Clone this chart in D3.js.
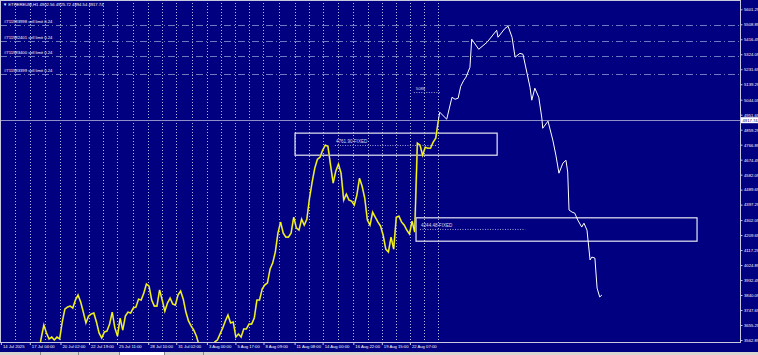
<!DOCTYPE html>
<html>
<head>
<meta charset="utf-8">
<script src="https://cdnjs.cloudflare.com/ajax/libs/d3/7.8.5/d3.min.js"></script>
<style>
  html, body { margin: 0; padding: 0; background: #000080; overflow: hidden; }
  svg { display: block; font-family: "Liberation Sans", Arial, sans-serif; }
</style>
</head>
<body>
<svg id="chart" width="758" height="355"></svg>
<script>
const firstBar = "2025-07-18 00:00";
const barStepHours = 6;
const closes = [
  3489, 3575, 3655, 3606, 3569, 3581, 3563, 3581, 3569, 3674,
  3754, 3766, 3772, 3760, 3809, 3840, 3797, 3735, 3668, 3711,
  3723, 3729, 3674, 3606, 3575, 3612, 3618, 3661, 3735, 3637,
  3587, 3698, 3624, 3711, 3735, 3729, 3760, 3766, 3815, 3809,
  3852, 3908, 3895, 3809, 3772, 3772, 3871, 3809, 3741, 3791,
  3821, 3785, 3778, 3840, 3865, 3815, 3735, 3680, 3649, 3624,
  3587, 3532, 3489, 3464, 3477, 3464, 3501, 3551, 3563, 3600,
  3637, 3680, 3717, 3668, 3674, 3581, 3600, 3581, 3631, 3631,
  3661, 3661, 3698, 3809, 3809, 3877, 3902, 3914, 4000, 4037,
  4105, 4222, 4290, 4222, 4197, 4197, 4222, 4320, 4253, 4240,
  4308, 4271, 4308, 4437, 4536, 4622, 4677, 4690, 4733, 4764,
  4758, 4641, 4530, 4604, 4647, 4591, 4425, 4462, 4425, 4419,
  4394, 4456, 4560, 4511, 4437, 4302, 4271, 4351, 4320, 4290,
  4265, 4209, 4123, 4105, 4197, 4123, 4320, 4326, 4290, 4271,
  4240, 4216, 4296, 4228, 4776, 4764, 4702, 4751, 4745, 4745,
  4782, 4807, 4917.74
];

// hand-drawn projection (white polyline)
const projDates = [
  "2025-08-25 00:00", "2025-08-25 03:00", "2025-08-25 19:00", "2025-08-26 07:00",
  "2025-08-26 14:00", "2025-08-26 21:00", "2025-08-27 03:00", "2025-08-27 10:00",
  "2025-08-27 15:00", "2025-08-28 00:00", "2025-08-28 04:00", "2025-08-28 20:00",
  "2025-08-29 15:00", "2025-08-30 13:00", "2025-08-30 16:00", "2025-08-31 08:00",
  "2025-08-31 15:00", "2025-09-01 00:00", "2025-09-01 07:00", "2025-09-01 18:00",
  "2025-09-02 01:00", "2025-09-02 17:00", "2025-09-02 21:00", "2025-09-03 04:00",
  "2025-09-03 13:00", "2025-09-03 20:00", "2025-09-03 22:00", "2025-09-04 10:00",
  "2025-09-04 21:00", "2025-09-05 04:00", "2025-09-05 11:00", "2025-09-05 20:00",
  "2025-09-06 03:00", "2025-09-06 07:00", "2025-09-06 10:00", "2025-09-06 17:00",
  "2025-09-06 23:00", "2025-09-07 06:00", "2025-09-07 15:00", "2025-09-07 20:00",
  "2025-09-08 03:00", "2025-09-08 10:00", "2025-09-08 14:00", "2025-09-08 21:00",
  "2025-09-09 02:00", "2025-09-09 08:00", "2025-09-09 13:00"
];
const projPrices = [
  4917.74, 4967, 4924, 5059, 5047, 5053, 5127, 5164,
  5183, 5244, 5417, 5355, 5398, 5472, 5429, 5484,
  5497, 5429, 5306, 5330, 5324, 5121, 5041, 5115,
  5059, 4930, 4868, 4912, 4795, 4702, 4591, 4653,
  4671, 4598, 4364, 4351, 4345, 4302, 4259, 4283,
  4240, 4056, 4074, 4068, 3883, 3828, 3840
];

const priceTicks = [
  5601.29, 5508.89, 5416.49, 5324.09, 5231.69, 5139.29, 5044.09, 4951.69,
  4859.29, 4766.89, 4674.49, 4582.09, 4489.69, 4397.29, 4302.09, 4209.69,
  4117.29, 4024.89, 3932.49, 3840.09, 3747.69, 3655.29, 3562.89
];

const timeTickDates = [
  "2025-07-14 10:00", "2025-07-17 04:00", "2025-07-20 02:00", "2025-07-22 19:00",
  "2025-07-25 11:00", "2025-07-28 10:00", "2025-07-31 02:00", "2025-08-03 00:00",
  "2025-08-05 17:00", "2025-08-08 09:00", "2025-08-11 08:00", "2025-08-14 00:00",
  "2025-08-16 22:00", "2025-08-19 15:00", "2025-08-22 07:00"
];
const timeTickLabels = [
  "14 Jul 2025", "17 Jul 04:00", "20 Jul 02:00", "22 Jul 19:00",
  "25 Jul 11:00", "28 Jul 10:00", "31 Jul 02:00", "3 Aug 00:00",
  "5 Aug 17:00", "8 Aug 09:00", "11 Aug 08:00", "14 Aug 00:00",
  "16 Aug 22:00", "19 Aug 15:00", "22 Aug 07:00"
];

const sellLimitNames = [
  "#711983998 sell limit 0.24", "#711982401 sell limit 0.24",
  "#711983400 sell limit 0.24", "#711983399 sell limit 0.24"
];
const sellLimitPrices = [5507, 5406, 5316, 5205];

const zoneNames = ["4761.90  FIXED", "4244.48 FIXED"];
const zoneLevels = [4761.90, 4244.48];
const zoneTops = [4838, 4316];
const zoneBottoms = [4702, 4172];
const zoneStarts = ["2025-08-11 09:00", "2025-08-22 21:00"];
const zoneEnds = ["2025-08-30 14:00", "2025-09-18 14:00"];
const zoneLineStarts = ["2025-08-15 04:00", "2025-08-23 06:00"];
const zoneLineEnds = ["2025-08-24 21:00", "2025-09-02 06:00"];

const targetLevel = 5088;
const targetFrom = "2025-08-22 16:00";
const targetTo = "2025-08-25 04:00";

const header = "\u25BC ETHEREUM,H1  4902.56 4925.72 4894.54 4917.74";

const WIDTH = 758;
const PLOT_RIGHT = 740;
const PLOT_BOTTOM = 342;
const FONT = 4.2;
const NAVY = "#000080";

const parse = d3.timeParse("%Y-%m-%d %H:%M");
const start = parse(firstBar);
const bars = closes.map((c, i) => ({ date: d3.timeHour.offset(start, i * barStepHours), close: c }));
const proj = projDates.map((d, i) => ({ date: parse(d), close: projPrices[i] }));

const x = d3.scaleTime()
  .domain([parse("2025-07-14 08:00"), parse("2025-09-22 16:00")])
  .range([0, PLOT_RIGHT]);

const y = d3.scaleLinear()
  .domain([3562.89, 5601.29])
  .range([340, 9.3]);

const svg = d3.select("#chart");

svg.append("rect")
  .attr("width", WIDTH).attr("height", 355)
  .attr("fill", NAVY);

svg.append("defs").append("clipPath").attr("id", "plot")
  .append("rect").attr("x", 0).attr("y", 0)
  .attr("width", PLOT_RIGHT).attr("height", PLOT_BOTTOM);

const plot = svg.append("g").attr("clip-path", "url(#plot)");

// vertical grid: at every time label and half way between them
const tickDates = timeTickDates.map(parse);
const lastBar = bars[bars.length - 1].date;
const gridEdges = tickDates.concat([lastBar]);
let gridDates = [];
gridEdges.forEach((d, i) => {
  gridDates.push(d);
  if (i < gridEdges.length - 1) {
    gridDates.push(new Date((+d + +gridEdges[i + 1]) / 2));
  }
});
gridDates = gridDates.slice(1);

plot.selectAll("line.grid")
  .data(gridDates)
  .enter().append("line")
  .attr("class", "grid")
  .attr("x1", d => Math.round(x(d)) + 0.5)
  .attr("x2", d => Math.round(x(d)) + 0.5)
  .attr("y1", 0).attr("y2", PLOT_BOTTOM)
  .attr("stroke", "#b8b8e4")
  .attr("stroke-width", 1)
  .attr("stroke-dasharray", "1,2");

// pending orders
plot.selectAll("line.order")
  .data(sellLimitPrices)
  .enter().append("line")
  .attr("class", "order")
  .attr("x1", 0).attr("x2", PLOT_RIGHT)
  .attr("y1", d => Math.round(y(d)) + 0.5)
  .attr("y2", d => Math.round(y(d)) + 0.5)
  .attr("stroke", "#6a7abc")
  .attr("stroke-width", 1)
  .attr("stroke-dasharray", "7,3,1,3");

plot.selectAll("text.order")
  .data(sellLimitNames)
  .enter().append("text")
  .attr("class", "order")
  .attr("x", 4)
  .attr("y", (d, i) => y(sellLimitPrices[i]) - 1.6)
  .attr("fill", "#ffffff")
  .attr("font-size", FONT)
  .text(d => d);

// bid line
const lastClose = closes[closes.length - 1];
plot.append("line")
  .attr("x1", 0).attr("x2", PLOT_RIGHT)
  .attr("y1", Math.round(y(lastClose)) + 0.5)
  .attr("y2", Math.round(y(lastClose)) + 0.5)
  .attr("stroke", "#9090c8")
  .attr("stroke-width", 1);

// zones
plot.selectAll("rect.zone")
  .data(zoneNames)
  .enter().append("rect")
  .attr("class", "zone")
  .attr("x", (d, i) => x(parse(zoneStarts[i])))
  .attr("y", (d, i) => y(zoneTops[i]))
  .attr("width", (d, i) => x(parse(zoneEnds[i])) - x(parse(zoneStarts[i])))
  .attr("height", (d, i) => y(zoneBottoms[i]) - y(zoneTops[i]))
  .attr("fill", "none")
  .attr("stroke", "#e8e8f4")
  .attr("stroke-width", 1.2);

plot.selectAll("line.zone")
  .data(zoneLevels)
  .enter().append("line")
  .attr("class", "zone")
  .attr("x1", (d, i) => x(parse(zoneLineStarts[i])))
  .attr("x2", (d, i) => x(parse(zoneLineEnds[i])))
  .attr("y1", d => y(d)).attr("y2", d => y(d))
  .attr("stroke", "#a8a8d4")
  .attr("stroke-dasharray", "1,1.5");

plot.selectAll("text.zone")
  .data(zoneNames)
  .enter().append("text")
  .attr("class", "zone")
  .attr("x", (d, i) => x(parse(zoneLineStarts[i])) + 1)
  .attr("y", (d, i) => y(zoneLevels[i]) - 2)
  .attr("fill", "#d8d8ec")
  .attr("font-size", FONT + 0.4)
  .text(d => d);

// target label
plot.append("line")
  .attr("x1", x(parse(targetFrom))).attr("x2", x(parse(targetTo)))
  .attr("y1", y(targetLevel)).attr("y2", y(targetLevel))
  .attr("stroke", "#a8a8d4")
  .attr("stroke-dasharray", "1,1.5");

plot.append("text")
  .attr("x", x(parse(targetFrom)) + 2)
  .attr("y", y(targetLevel) - 3)
  .attr("fill", "#d8d8ec")
  .attr("font-size", FONT)
  .text(targetLevel);

// price line
const line = d3.line()
  .x(d => x(d.date))
  .y(d => y(d.close));

plot.append("path")
  .datum(bars)
  .attr("d", line)
  .attr("fill", "none")
  .attr("stroke", "#7a7a86")
  .attr("stroke-width", 1.8)
  .attr("stroke-linejoin", "miter");

plot.append("path")
  .datum(bars)
  .attr("d", line)
  .attr("fill", "none")
  .attr("stroke", "#ffff00")
  .attr("stroke-width", 1.1)
  .attr("stroke-linejoin", "miter");

plot.append("path")
  .datum(proj)
  .attr("d", line)
  .attr("fill", "none")
  .attr("stroke", "#ffffff")
  .attr("stroke-width", 1)
  .attr("stroke-linejoin", "round");

// chart frame
svg.append("rect")
  .attr("x", 0.5).attr("y", 0.5)
  .attr("width", PLOT_RIGHT).attr("height", PLOT_BOTTOM)
  .attr("fill", "none")
  .attr("stroke", "#c8c8e0")
  .attr("stroke-width", 1);

// price axis
const yAxis = d3.axisRight(y)
  .tickValues(priceTicks)
  .tickFormat(d3.format(".2f"))
  .tickSize(2)
  .tickPadding(1.5);

const yAxisG = svg.append("g")
  .attr("transform", `translate(${PLOT_RIGHT + 0.5},0)`)
  .call(yAxis);
yAxisG.select(".domain").remove();
yAxisG.selectAll("line").attr("stroke", "#c8c8e0");
yAxisG.selectAll("text")
  .attr("fill", "#ffffff")
  .attr("font-size", FONT)
  .attr("font-family", "Liberation Sans, Arial, sans-serif");

// current price marker
const bidY = y(lastClose);
svg.append("rect")
  .attr("x", PLOT_RIGHT + 1).attr("y", bidY - 3)
  .attr("width", WIDTH - PLOT_RIGHT - 1).attr("height", 6)
  .attr("fill", "#ffffff");
svg.append("text")
  .attr("x", PLOT_RIGHT + 2.5).attr("y", bidY + 1.5)
  .attr("fill", NAVY)
  .attr("font-size", FONT)
  .text(d3.format(".2f")(lastClose));

// time axis
const xAxis = d3.axisBottom(x)
  .tickValues(tickDates)
  .tickFormat((d, i) => timeTickLabels[i])
  .tickSize(2.5)
  .tickPadding(0.5);

const xAxisG = svg.append("g")
  .attr("transform", `translate(0,${PLOT_BOTTOM + 0.5})`)
  .call(xAxis);
xAxisG.select(".domain").remove();
xAxisG.selectAll("line").attr("stroke", "#c8c8e0");
xAxisG.selectAll("text")
  .attr("fill", "#ffffff")
  .attr("font-size", FONT)
  .attr("font-family", "Liberation Sans, Arial, sans-serif")
  .attr("text-anchor", "start")
  .attr("dx", 1.5);

// header
svg.append("text")
  .attr("x", 3).attr("y", 5.6)
  .attr("fill", "#ffffff")
  .attr("font-size", FONT)
  .text(header);

// terminal tabs strip
const tabEdges = [0, 40, 78, 119, 164, 203];
svg.append("rect")
  .attr("x", 0).attr("y", 352)
  .attr("width", WIDTH).attr("height", 3)
  .attr("fill", "#d8d5d0");
svg.append("rect")
  .attr("x", tabEdges[3]).attr("y", 352)
  .attr("width", tabEdges[4] - tabEdges[3]).attr("height", 3)
  .attr("fill", "#ffffff");
svg.selectAll("line.tab")
  .data(tabEdges.slice(1))
  .enter().append("line")
  .attr("class", "tab")
  .attr("x1", d => d + 0.5).attr("x2", d => d + 0.5)
  .attr("y1", 352).attr("y2", 355)
  .attr("stroke", "#8a8a8a");
</script>
</body>
</html>
